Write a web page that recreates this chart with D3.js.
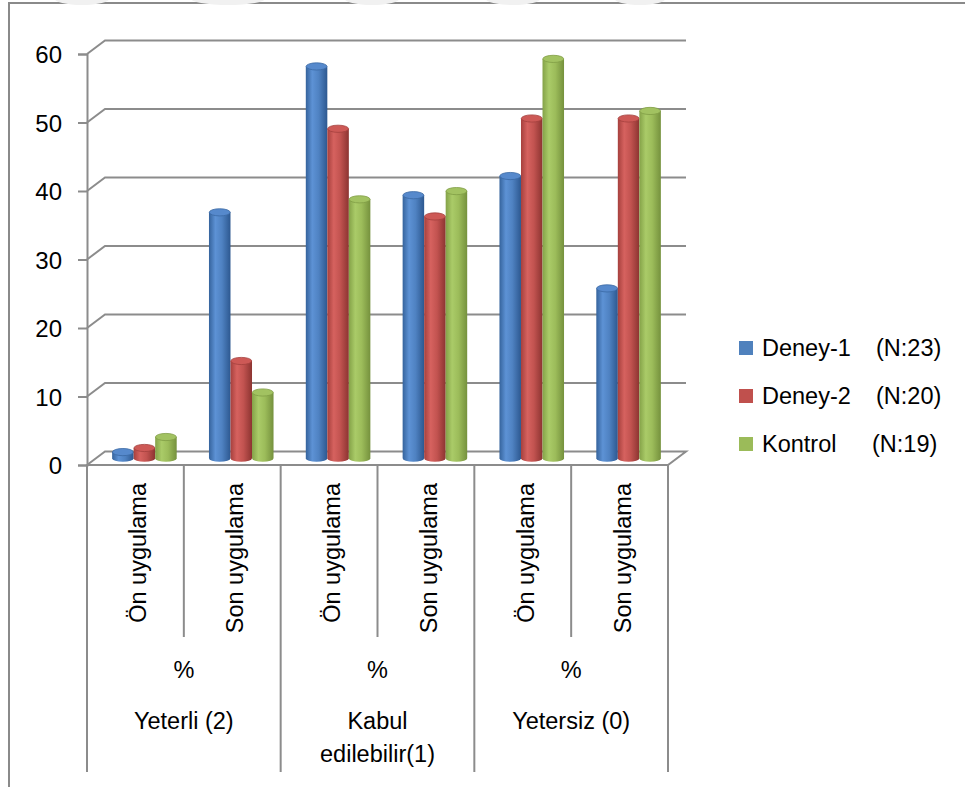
<!DOCTYPE html>
<html>
<head>
<meta charset="utf-8">
<script src="https://cdn.jsdelivr.net/npm/d3@7"></script>
<style>
  html, body { margin: 0; padding: 0; background: #ffffff; }
  svg { display: block; }
  text { font-family: "Liberation Sans", Arial, sans-serif; fill: #000; }
</style>
</head>
<body>
<svg id="chart" width="965" height="787"></svg>
<script>
// Sub-categories (application) grouped under the rating levels
const subCategories = ["Ön uygulama", "Son uygulama", "Ön uygulama", "Son uygulama", "Ön uygulama", "Son uygulama"];
const groupLabels = [["Yeterli (2)"], ["Kabul", "edilebilir(1)"], ["Yetersiz (0)"]];
const groupUnit = "%";

// Series
const seriesNames = ["Deney-1", "Deney-2", "Kontrol"];
const seriesN = ["(N:23)", "(N:20)", "(N:19)"];
const deney1 = [0.9, 35.9, 57.2, 38.4, 41.2, 24.8];
const deney2 = [1.5, 14.2, 48.1, 35.3, 49.6, 49.6];
const kontrol = [3.1, 9.6, 37.8, 39.0, 58.3, 50.7];
const seriesValues = [deney1, deney2, kontrol];

// Value axis ticks
const yTicks = [0, 10, 20, 30, 40, 50, 60];

const svg = d3.select("#chart");

// plot geometry: front plane and depth offset of the 3D box
const plotLeft = 87, plotRight = 668, plotBottom = 465, plotTop = 54;
const depthX = 18, depthY = -13.5;
const gridColor = "#8c8c8c";

const y = d3.scaleLinear().domain([0, 60]).range([plotBottom, plotTop]);
const x = d3.scaleBand().domain(d3.range(subCategories.length)).range([plotLeft, plotRight]).padding(0);
const barW = x.bandwidth() / 4.5;
const xs = d3.scaleBand().domain(d3.range(seriesNames.length)).range([0, barW * 3]);

// outer frame
svg.append("path")
  .attr("d", `M9,787 L9,3 L965,3`)
  .attr("fill", "none").attr("stroke", "#8a8a8a").attr("stroke-width", 2);

// faint marks along the top edge
const topMarks = [[82, 28], [228, 38], [372, 28], [513, 28], [640, 26]];
svg.append("g").selectAll("ellipse").data(topMarks).join("ellipse")
  .attr("cx", d => d[0]).attr("cy", -2).attr("rx", d => d[1]).attr("ry", 7)
  .attr("fill", "#f1f1f1");

// back wall gridlines with the side-wall diagonals
const grid = svg.append("g");
yTicks.filter(t => t > 0).forEach(t => {
  const yf = y(t);
  grid.append("path")
    .attr("d", `M${plotLeft},${yf} L${plotLeft + depthX},${yf + depthY} L${plotRight + depthX},${yf + depthY}`)
    .attr("fill", "none").attr("stroke", gridColor).attr("stroke-width", 2);
});

// floor
const y0 = y(0);
grid.append("path")
  .attr("d", `M${plotLeft},${y0} L${plotLeft + depthX},${y0 + depthY} L${plotRight + depthX},${y0 + depthY} L${plotRight},${y0} Z`)
  .attr("fill", "none").attr("stroke", gridColor).attr("stroke-width", 2);

// value axis on the front plane
const axis = svg.append("g")
  .attr("transform", `translate(${plotLeft},0)`)
  .call(d3.axisLeft(y).tickValues(yTicks).tickSize(9).tickPadding(16).tickFormat(d3.format("d")));
axis.select(".domain").attr("stroke", gridColor).attr("stroke-width", 2);
axis.selectAll(".tick line").attr("stroke", gridColor).attr("stroke-width", 2);
axis.selectAll(".tick text").attr("font-size", 24).attr("font-family", "Liberation Sans, Arial, sans-serif").attr("fill", "#000").attr("dy", "0.36em");

// cylinder shading
const shades = [
  { dark: "#35639c", light: "#5d92d5", mid: "#4f82c2", edge: "#2d5890", top: "#5689cc", rim: "#3a68a3", flat: "#4F81BD" },
  { dark: "#a6403d", light: "#d6625f", mid: "#c25350", edge: "#8c3431", top: "#cd5956", rim: "#a3403d", flat: "#C0504D" },
  { dark: "#84a248", light: "#aacb68", mid: "#9cbc5a", edge: "#75913d", top: "#a2c261", rim: "#809d45", flat: "#9BBB59" }
];
const defs = svg.append("defs");
shades.forEach((s, i) => {
  const g = defs.append("linearGradient").attr("id", "cyl" + i).attr("x1", 0).attr("x2", 1).attr("y1", 0).attr("y2", 0);
  g.append("stop").attr("offset", 0).attr("stop-color", s.dark);
  g.append("stop").attr("offset", 0.3).attr("stop-color", s.light);
  g.append("stop").attr("offset", 0.6).attr("stop-color", s.mid);
  g.append("stop").attr("offset", 1).attr("stop-color", s.edge);
});

// bars: cylinders placed at half depth
const rx = barW / 2, ry = 3.6;
const barData = [];
subCategories.forEach((c, ci) => {
  seriesValues.forEach((vals, si) => {
    barData.push({ ci, si, v: vals[ci] });
  });
});
const bars = svg.append("g").selectAll("g").data(barData).join("g");
bars.each(function (d) {
  const g = d3.select(this);
  const start = x(d.ci) + depthX / 2 + (x.bandwidth() - barW * 3) / 2;
  const cx = start + xs(d.si) + rx;
  const yb = y(0) + depthY / 2;
  const yt = y(d.v) + depthY / 2;
  g.append("path")
    .attr("d", `M${cx - rx},${yt} L${cx - rx},${yb} A${rx},${ry} 0 0 0 ${cx + rx},${yb} L${cx + rx},${yt} Z`)
    .attr("fill", `url(#cyl${d.si})`);
  g.append("ellipse")
    .attr("cx", cx).attr("cy", yt).attr("rx", rx - 0.3).attr("ry", ry)
    .attr("fill", shades[d.si].top).attr("stroke", shades[d.si].rim).attr("stroke-width", 0.8);
});

// category dividers below the floor
const lab = svg.append("g");
d3.range(subCategories.length + 1).forEach(i => {
  const xx = i < subCategories.length ? x(i) : plotRight;
  const isGroup = i % 2 === 0;
  lab.append("line")
    .attr("x1", xx).attr("x2", xx).attr("y1", plotBottom).attr("y2", isGroup ? 772 : 637)
    .attr("stroke", gridColor).attr("stroke-width", 2);
});

// rotated sub-category labels
subCategories.forEach((c, i) => {
  const cx = x(i) + x.bandwidth() / 2 + 11;
  lab.append("text")
    .attr("transform", `translate(${cx},483) rotate(-90)`)
    .attr("text-anchor", "end").attr("font-size", 23.5)
    .text(c);
});

// group labels
groupLabels.forEach((lines, gi) => {
  const cx = x(gi * 2) + x.bandwidth();
  lab.append("text").attr("x", cx).attr("y", 678).attr("text-anchor", "middle").attr("font-size", 23.5).text(groupUnit);
  lines.forEach((l, li) => {
    lab.append("text").attr("x", cx).attr("y", 729 + li * 33).attr("text-anchor", "middle").attr("font-size", 23.5).text(l);
  });
});

// legend
const legendY = [348, 396, 444];
const nX = [876, 876, 872];
const legend = svg.append("g");
seriesNames.forEach((n, i) => {
  legend.append("rect").attr("x", 739).attr("y", legendY[i] - 7).attr("width", 14).attr("height", 14).attr("fill", shades[i].flat);
  legend.append("text").attr("x", 762).attr("y", legendY[i] + 8).attr("font-size", 23.5).text(n);
  legend.append("text").attr("x", nX[i]).attr("y", legendY[i] + 8).attr("font-size", 23.5).text(seriesN[i]);
});
</script>
</body>
</html>
